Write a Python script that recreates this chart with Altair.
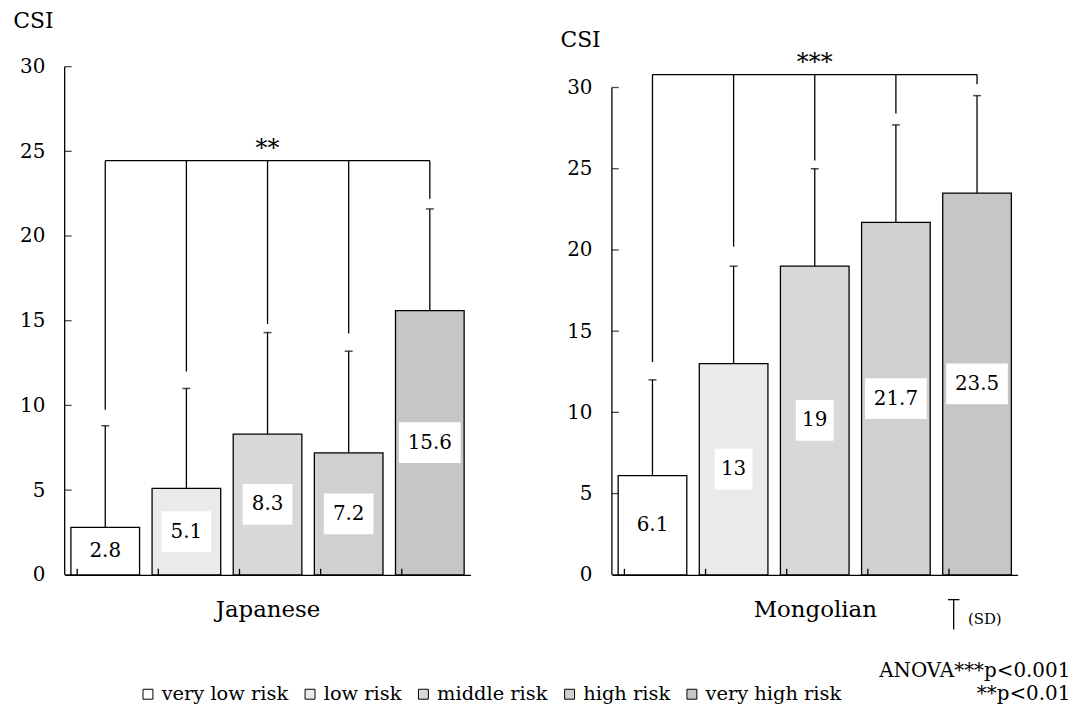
import altair as alt
import pandas as pd

categories = ["very low risk", "low risk", "middle risk", "high risk", "very high risk"]
fills = ["#ffffff", "#eaeaea", "#d8d8d8", "#d0d0d0", "#c6c6c6"]

jp_mean = [2.8, 5.1, 8.3, 7.2, 15.6]
jp_sd = [6.0, 5.9, 6.0, 6.0, 6.0]
jp_bracket_bottom = [9.75, 12.0, 14.8, 14.25, 22.2]
jp_bracket_y = 24.45

mn_mean = [6.1, 13, 19, 21.7, 23.5]
mn_sd = [5.9, 6.0, 6.0, 6.0, 6.0]
mn_bracket_bottom = [13.1, 20.2, 25.5, 28.4, 30.2]
mn_bracket_y = 30.8

y_ticks = [0, 5, 10, 15, 20, 25, 30]
notes = ["ANOVA***p<0.001", "**p<0.01"]
FONT = "DejaVu Serif"
W, H = 408, 511


def panel(means, sds, bottoms, bracket_y, stars, title, ymax, csi_y, extra=None):
    df = pd.DataFrame({
        "cat": categories,
        "mean": means,
        "sd": sds,
        "bottom": bottoms,
        "label": [f"{v:g}" for v in means],
    })
    df["top"] = df["mean"] + df["sd"]
    df["mid"] = df["mean"] / 2
    df["bracket"] = bracket_y

    xs = alt.Scale(domain=categories, paddingInner=0.154, paddingOuter=0.077)
    ys = alt.Scale(domain=[0, ymax], nice=False, zero=True)
    base = alt.Chart(df)

    bars = base.mark_bar(stroke="black", strokeWidth=1.3).encode(
        x=alt.X("cat:N", scale=xs, sort=categories,
                axis=alt.Axis(title=title, labels=False, ticks=False, domain=True,
                              domainColor="black", domainWidth=1.3,
                              titleFont=FONT, titleFontSize=23, titleFontWeight="normal",
                              titleY=35, titleBaseline="middle", titleColor="black")),
        y=alt.Y("mean:Q", scale=ys,
                axis=alt.Axis(title="CSI", values=y_ticks, ticks=False, domain=False,
                              grid=False, labelPadding=20, labelFont=FONT,
                              labelFontSize=20, labelColor="black",
                              titleAngle=0, titleX=-32, titleY=csi_y,
                              titleAlign="center", titleBaseline="middle",
                              titleFont=FONT, titleFontSize=22,
                              titleFontWeight="normal", titleColor="black")),
        color=alt.Color("cat:N", scale=alt.Scale(domain=categories, range=fills),
                        legend=alt.Legend(title=None)),
    )
    err = base.mark_rule(color="black", strokeWidth=1.3).encode(
        x=alt.X("cat:N", scale=xs, sort=categories, title=title),
        y=alt.Y("mean:Q", scale=ys, title="CSI"), y2="top:Q")
    caps = base.mark_tick(orient="horizontal", size=8, thickness=1.5, color="black").encode(
        x=alt.X("cat:N", scale=xs, sort=categories, title=title),
        y=alt.Y("top:Q", scale=ys, title="CSI"))
    brv = base.mark_rule(color="black", strokeWidth=1.3).encode(
        x=alt.X("cat:N", scale=xs, sort=categories, title=title),
        y=alt.Y("bottom:Q", scale=ys, title="CSI"), y2="bracket:Q")
    brh_df = pd.DataFrame({"a": [categories[0]], "b": [categories[-1]],
                           "y": [bracket_y], "mc": [categories[2]], "s": [stars]})
    brh = alt.Chart(brh_df).mark_rule(color="black", strokeWidth=1.3).encode(
        x=alt.X("a:N", scale=xs, sort=categories, title=title, bandPosition=0.5),
        x2=alt.X2("b:N", bandPosition=0.5),
        y=alt.Y("y:Q", scale=ys, title="CSI"))
    star = alt.Chart(brh_df).mark_text(font=FONT, fontSize=24, dy=-5,
                                       baseline="alphabetic", color="black").encode(
        x=alt.X("mc:N", scale=xs, sort=categories, title=title),
        y=alt.Y("y:Q", scale=ys, title="CSI"), text="s:N")
    boxes = base.transform_calculate(
        hw="7 + 6*length(datum.label)",
        shp="'M' + (-datum.hw) + ',-20.5H' + datum.hw + 'V20.5H' + (-datum.hw) + 'Z'",
    ).mark_point(filled=True, fill="white", opacity=1, size=4, strokeWidth=0).encode(
        x=alt.X("cat:N", scale=xs, sort=categories, title=title),
        y=alt.Y("mid:Q", scale=ys, title="CSI"),
        shape=alt.Shape("shp:N", scale=None))
    labels = base.mark_text(font=FONT, fontSize=20, color="black", baseline="middle").encode(
        x=alt.X("cat:N", scale=xs, sort=categories, title=title),
        y=alt.Y("mid:Q", scale=ys, title="CSI"), text="label:N")

    tick_df = pd.DataFrame({"v": y_ticks})
    yt = alt.Chart(tick_df).mark_tick(orient="horizontal", size=7, thickness=1.3,
                                      color="black").encode(
        x=alt.value(3.5), y=alt.Y("v:Q", scale=ys, title="CSI"))
    axis_df = pd.DataFrame({"lo": [min(y_ticks)], "hi": [max(y_ticks)]})
    yline = alt.Chart(axis_df).mark_rule(color="black", strokeWidth=1.3).encode(
        x=alt.value(0), y=alt.Y("lo:Q", scale=ys, title="CSI"), y2="hi:Q")
    xt = base.mark_rule(color="black", strokeWidth=1.3).encode(
        x=alt.X("cat:N", scale=xs, sort=categories, title=title, bandPosition=1),
        xOffset=alt.value(6.3),
        y=alt.value(H), y2=alt.value(H - 6))

    layers = [bars, err, caps, brv, brh, star, boxes, labels, yt, yline, xt]
    if extra is not None:
        layers += extra
    return alt.layer(*layers).properties(width=W, height=H)


dummy = pd.DataFrame({"n": notes})
sd_h = alt.Chart(dummy.head(1)).mark_rule(color="black", strokeWidth=1.3).encode(
    x=alt.value(338), x2=alt.value(349.5), y=alt.value(536))
sd_v = alt.Chart(dummy.head(1)).mark_rule(color="black", strokeWidth=1.3).encode(
    x=alt.value(343.7), y=alt.value(536), y2=alt.value(566))
sd_t = alt.Chart(dummy.head(1)).mark_text(font=FONT, fontSize=15, align="left",
                                          baseline="middle", color="black").encode(
    x=alt.value(358), y=alt.value(555), text=alt.value("(SD)"))
note1 = alt.Chart(dummy.head(1)).mark_text(font=FONT, fontSize=20, align="right",
                                           baseline="middle", color="black").encode(
    x=alt.value(461), y=alt.value(607.5), text="n:N")
note2 = alt.Chart(dummy.tail(1)).mark_text(font=FONT, fontSize=20, align="right",
                                           baseline="middle", color="black").encode(
    x=alt.value(461), y=alt.value(630.5), text="n:N")

jp = panel(jp_mean, jp_sd, jp_bracket_bottom, jp_bracket_y, "**", "Japanese", 30, -46)
mn = panel(mn_mean, mn_sd, mn_bracket_bottom, mn_bracket_y, "***", "Mongolian",
           30 * 511 / 490, -27, extra=[sd_h, sd_v, sd_t, note1, note2])

chart = alt.hconcat(jp, mn, spacing=142.3, bounds="flush").properties(
    padding={"left": 4, "top": 0, "right": 2, "bottom": 2}
).configure(font=FONT).configure_view(stroke=None).configure_legend(
    orient="none", legendX=74, legendY=621, direction="horizontal",
    symbolType="square", symbolSize=100, symbolStrokeColor="black",
    symbolStrokeWidth=1, symbolOpacity=1, labelFont=FONT, labelFontSize=19.5,
    labelColor="black", labelOffset=4, columnPadding=12, labelLimit=300,
)

chart.save("out.html", embed_options={"renderer": "svg", "actions": False})
